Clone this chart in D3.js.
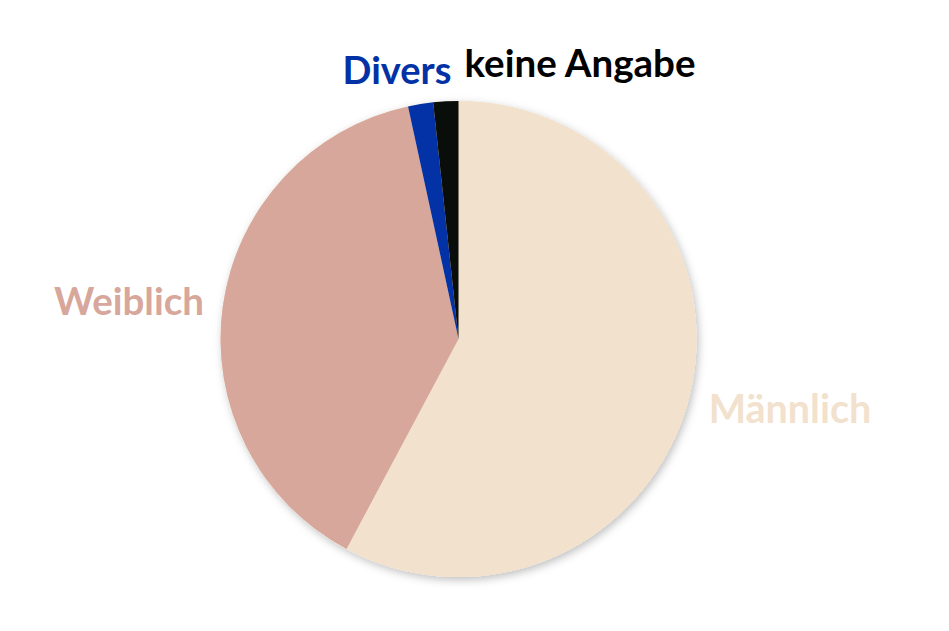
<!DOCTYPE html>
<html><head><meta charset="utf-8">
<script src="https://cdn.jsdelivr.net/npm/d3@7"></script>
<style>body{margin:0;background:#fff}svg{display:block}text{font-family:Lato,"Open Sans",sans-serif;font-weight:bold}</style>
</head><body>
<script>
const categories = ["Männlich","Weiblich","Divers","keine Angabe"];
const values = [57.8, 38.8, 1.7, 1.7];
const colors = ["#F2E1CD","#D7A79C","#0232A6","#0A0E0A"];
const labelColors = ["#F2E1CD","#D7A79C","#0232A6","#000000"];

const W=949,H=631,cx=458.5,cy=339,R=238;
const svg=d3.select("body").append("svg").attr("width",W).attr("height",H);
const defs=svg.append("defs");
const f=defs.append("filter").attr("id","sh").attr("x","-20%").attr("y","-20%").attr("width","140%").attr("height","140%");
f.append("feDropShadow").attr("dx",2).attr("dy",3).attr("stdDeviation",4.5).attr("flood-color","#000").attr("flood-opacity",0.25);

const data=categories.map((c,i)=>({c,v:values[i],i}));
const pie=d3.pie().sort(null).value(d=>d.v);
const arc=d3.arc().innerRadius(0).outerRadius(R);
const g=svg.append("g").attr("transform",`translate(${cx},${cy})`);
g.append("circle").attr("r",R).attr("fill","#F2E1CD").attr("filter","url(#sh)");
g.selectAll("path").data(pie(data)).join("path").attr("d",arc).attr("fill",d=>colors[d.data.i]);

const labelPos=[{x:790,y:423,a:"middle"},{x:129,y:315,a:"middle"},{x:397,y:84,a:"middle"},{x:580,y:77,a:"middle"}];
const sizes=[39.5,38.5,38,38.5];
svg.selectAll("text.lab").data(data).join("text").attr("class","lab")
 .attr("x",d=>labelPos[d.i].x).attr("y",d=>labelPos[d.i].y).attr("text-anchor",d=>labelPos[d.i].a)
 .attr("font-size",d=>sizes[d.i]).attr("fill",d=>labelColors[d.i]).text(d=>d.c);
</script>
</body></html>
